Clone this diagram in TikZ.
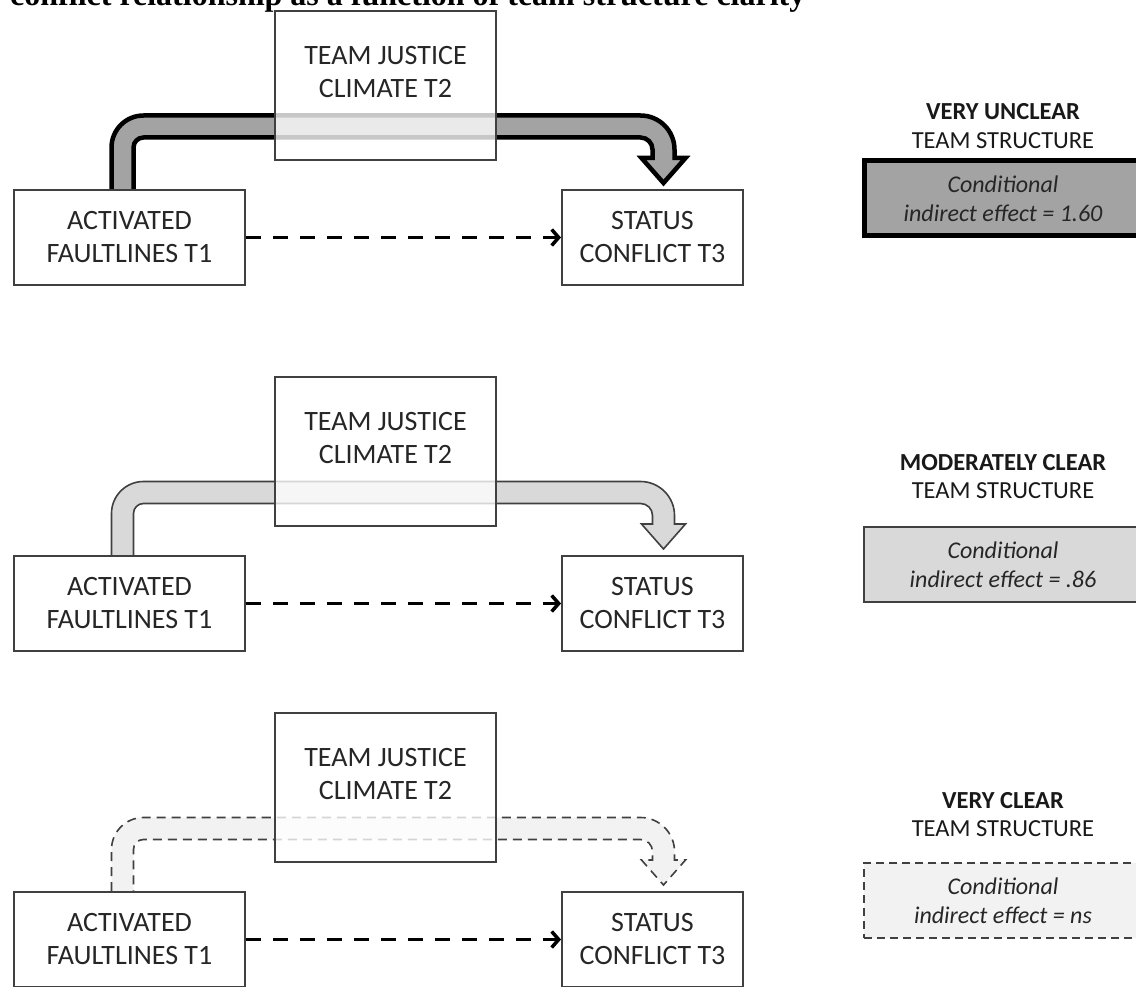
\documentclass[tikz,border=0pt]{standalone}
\usepackage{fontspec}
\setmainfont{Carlito}
\newfontfamily\titlefont{Liberation Serif}
\usepackage{xcolor}
\usepackage{tikz}
\usetikzlibrary{arrows.meta, positioning}

\definecolor{strongfill}{HTML}{A3A3A3}
\definecolor{mediumfill}{HTML}{D9D9D9}
\definecolor{weakfill}{HTML}{F2F2F2}

\tikzset{
  varbox/.style={draw=black!75, line width=2pt, fill=white, inner sep=0pt,
    align=center, text=black!85, font=\fontsize{28}{33}\selectfont},
  medbox/.style={varbox, fill opacity=0.78, text opacity=1, text depth=28pt},
  direct/.style={-{Straight Barb[length=7pt, width=16pt]}, line width=3.5pt,
    dash pattern=on 15pt off 12pt},
  band1/.style={fill=strongfill, draw=black, line width=4.5pt},
  band2/.style={fill=mediumfill, draw=black!75, line width=1.6pt},
  band3/.style={fill=weakfill, draw=black!75, line width=1.6pt, dash pattern=on 9pt off 6pt},
  res1/.style={fill=strongfill, draw=black, line width=5pt},
  res2/.style={fill=mediumfill, draw=black!75, line width=1.6pt},
  res3/.style={fill=weakfill, draw=black!75, line width=1.6pt, dash pattern=on 8pt off 5pt},
  effbox/.style={inner sep=0pt, minimum width=278pt, minimum height=75pt, align=center,
    text=black!85, font=\itshape\fontsize{24}{29}\selectfont},
  level/.style={align=center, text=black!90, font=\fontsize{24.5}{28.5}\selectfont}
}

\begin{document}
\begin{tikzpicture}[x=1pt, y=-1pt]
  \useasboundingbox (0,0) rectangle (1136,987);
  \clip (0,0) rectangle (1136,987);

  % Title (cut off at the top)
  \node[anchor=base west, inner sep=0pt, font={\titlefont\bfseries\fontsize{32}{36}\selectfont}] (title) at (10,6)
    {conflict relationship as a function of team structure clarity};

  \foreach \p/\dy/\hy/\lvl/\eff in {1/0/126/VERY UNCLEAR/1.60, 2/366/110.5/MODERATELY CLEAR/.86, 3/702/112.5/VERY CLEAR/ns}{
    \begin{scope}[shift={(0,\dy)}]
      % Indirect effect band
      \filldraw[band\p] (111.5,189) -- (111.5,147.5) arc[start angle=180, end angle=90, radius=32pt]
        -- (640.5,115.5) arc[start angle=90, end angle=0, radius=34pt]
        -- (674.5,158) -- (685.5,158) -- (663.5,183) -- (641.5,158) -- (652.5,158)
        -- (652.5,149.5) arc[start angle=0, end angle=90, radius=12pt]
        -- (143.5,137.5) arc[start angle=90, end angle=180, radius=10pt] -- (133.5,189);

      % Nodes
      \node[varbox, minimum width=231pt, minimum height=95pt] (act\p) at (129.5,237.5) {ACTIVATED\\FAULTLINES T1};
      \node[varbox, minimum width=181pt, minimum height=95pt, right=315pt of act\p] (sta\p) {STATUS\\CONFLICT T3};
      \node[medbox, minimum width=221pt, minimum height=149pt, above right=28pt and 28pt of act\p] (jus\p) {TEAM JUSTICE\\CLIMATE T2};

      % Direct effect
      \draw[direct] (act\p) -- (sta\p);

      % Moderator level
      \node[level] (hdr\p) at (1003,\hy) {\textbf{\lvl}\\TEAM STRUCTURE};
      \node[effbox, res\p] (eff\p) at (1003,198.5) {Conditional\\indirect effect = \eff};
    \end{scope}
  }
\end{tikzpicture}
\end{document}
